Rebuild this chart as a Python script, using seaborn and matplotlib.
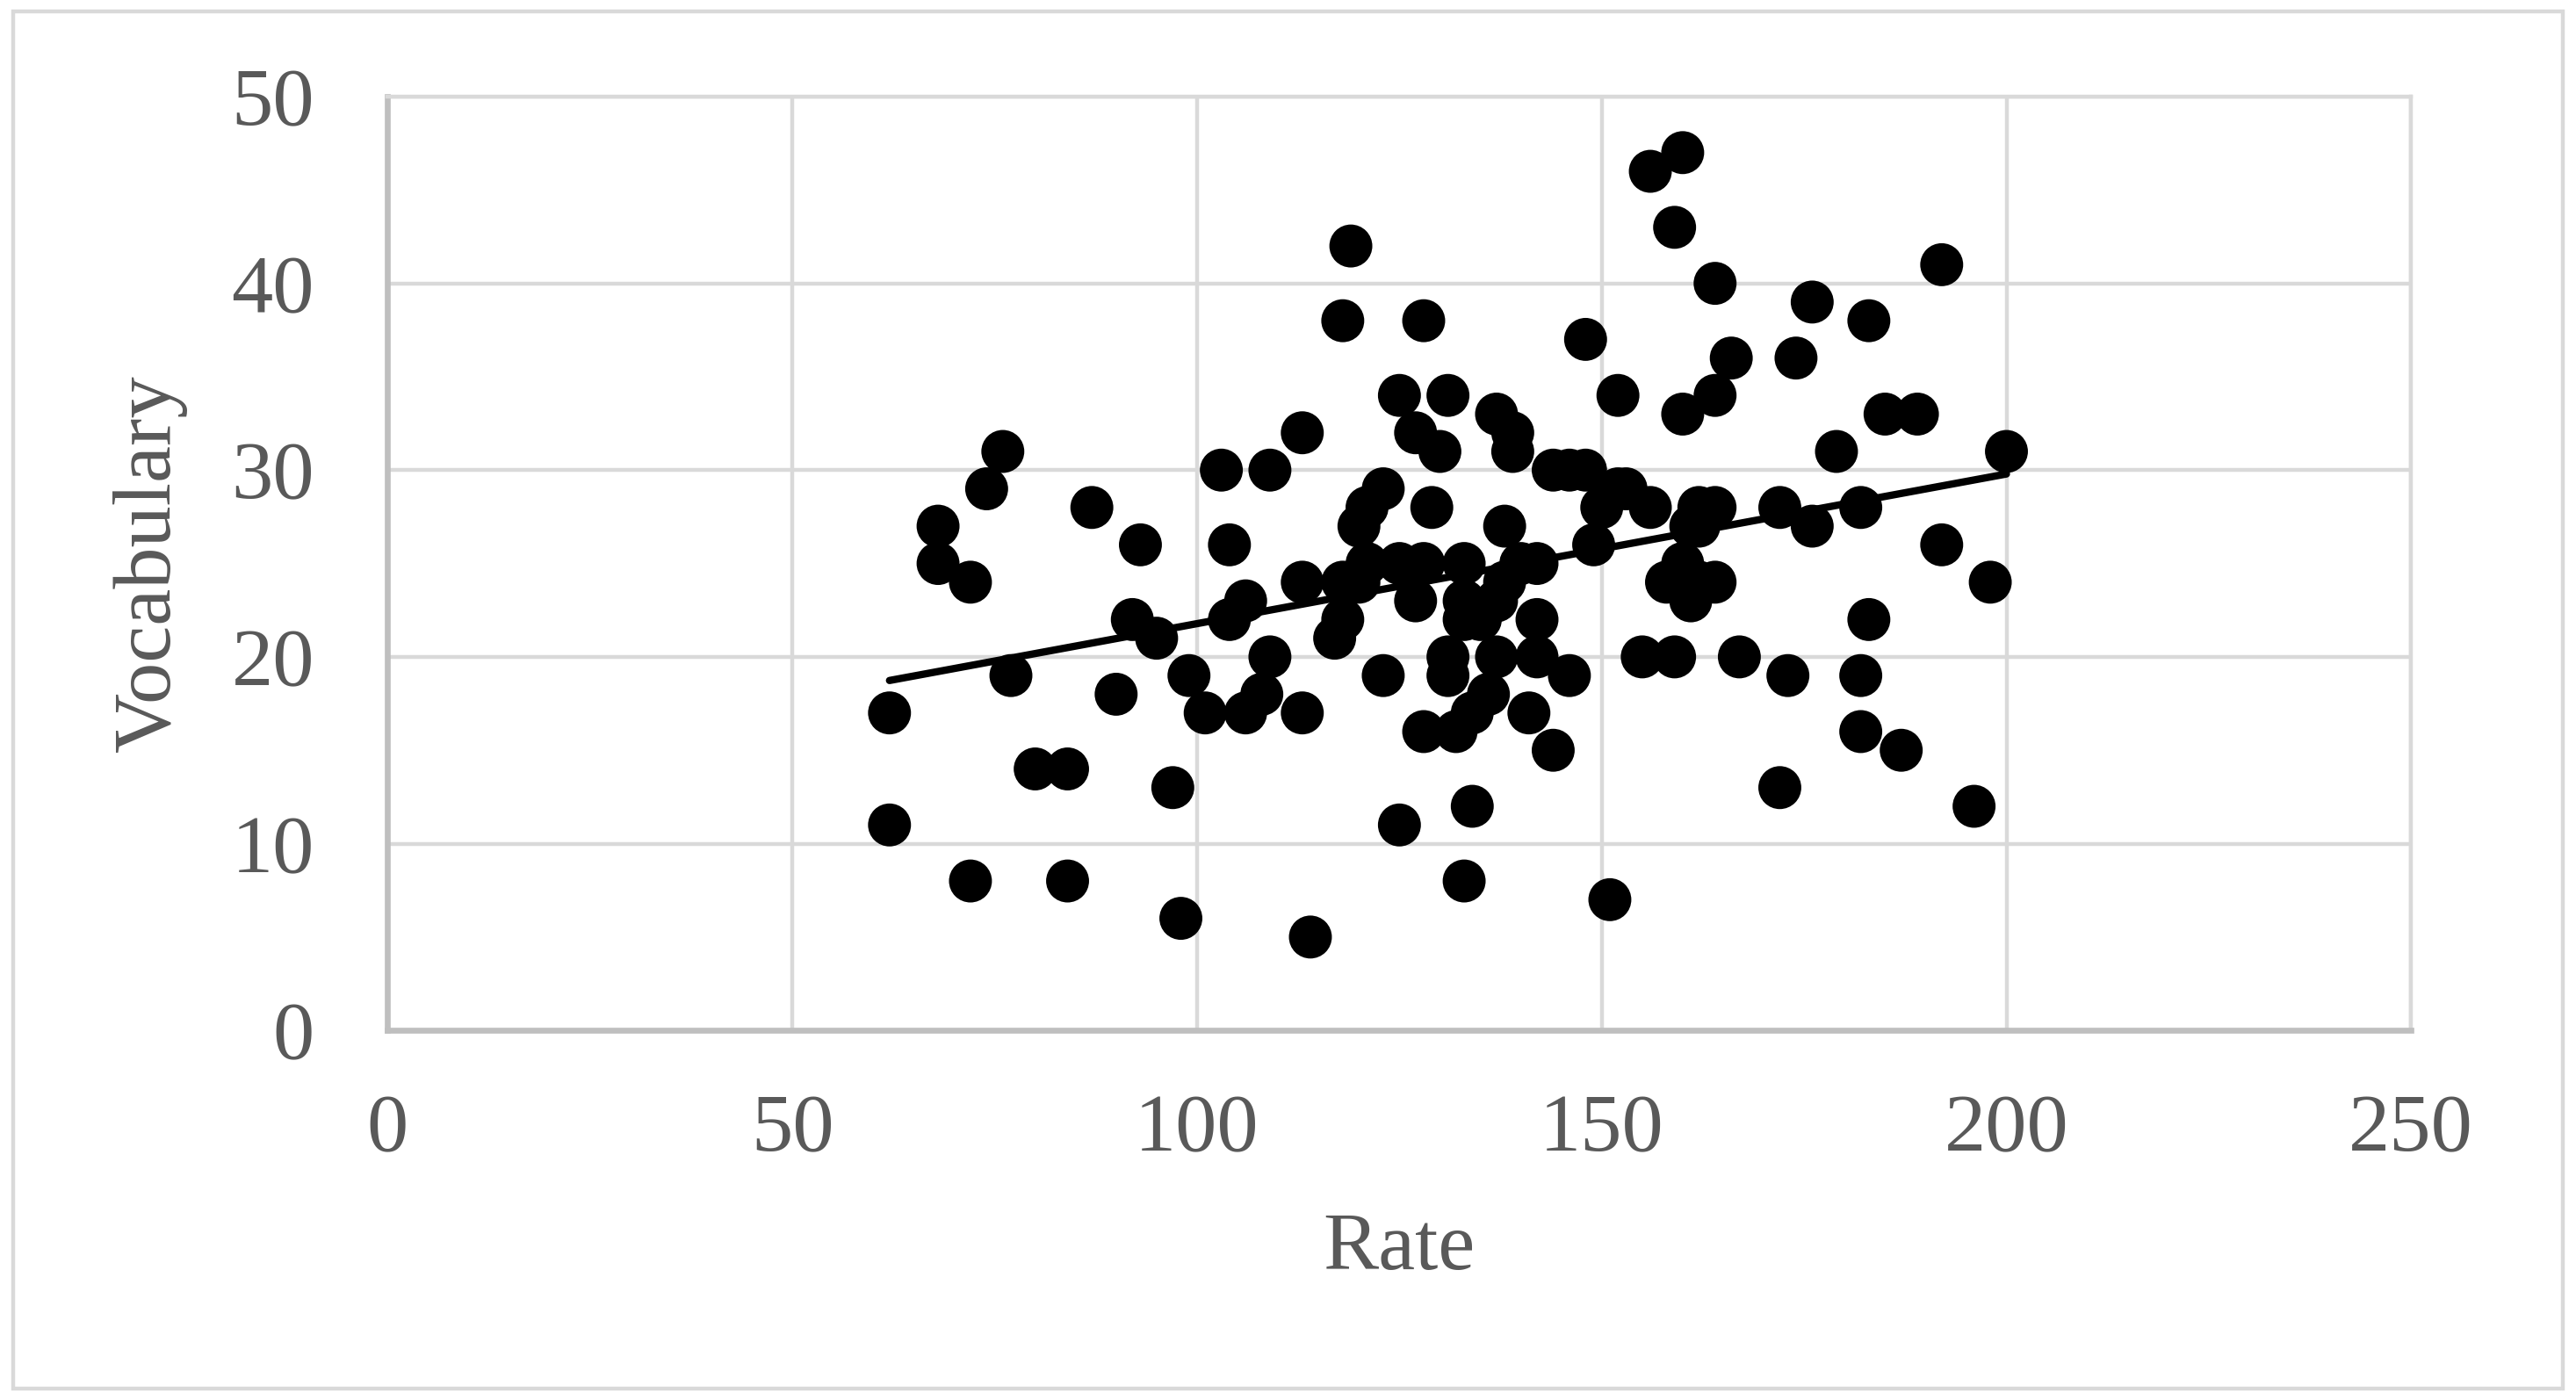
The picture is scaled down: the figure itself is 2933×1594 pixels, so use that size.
#!/usr/bin/env python3
"""Scatter of Rate vs Vocabulary with a linear trendline."""

import matplotlib
matplotlib.use('Agg')
import matplotlib.pyplot as plt
import seaborn as sns
import pandas as pd
from matplotlib.patches import Rectangle

# values
rate = [62, 62, 68, 68, 72, 72, 74, 76, 77, 80, 84, 84, 87, 90, 92, 93, 95, 97,
        98, 99, 101, 103, 104, 104, 106, 106, 108, 109, 109, 113, 113, 113, 114,
        117, 118, 118, 119, 118, 120, 120, 121, 123, 123, 125, 125, 125, 127, 127,
        128, 128, 128, 129, 130, 131, 131, 131, 132, 133, 133, 133, 133, 134, 134,
        135, 136, 137, 137, 137, 138, 138, 139, 139, 140, 141, 142, 142, 142, 144,
        144, 146, 146, 148, 148, 149, 150, 151, 152, 152, 153, 155, 156, 156, 158,
        159, 159, 160, 160, 160, 161, 161, 162, 164, 164, 164, 164, 166, 167, 172,
        172, 173, 174, 176, 176, 179, 182, 182, 182, 183, 183, 185, 187, 189, 192,
        192, 196, 198, 200, 160, 162, 162, 121]
vocabulary = [17, 11, 27, 25, 24, 8, 29, 31, 19, 14, 14, 8, 28, 18, 22, 26, 21, 13,
              6, 19, 17, 30, 26, 22, 23, 17, 18, 20, 30, 32, 24, 17, 5,
              21, 22, 38, 42, 24, 27, 24, 28, 29, 19, 34, 25, 11, 32, 23,
              38, 25, 16, 28, 31, 34, 20, 19, 16, 25, 23, 22, 8, 17, 12,
              22, 18, 33, 20, 23, 27, 24, 32, 31, 25, 17, 20, 22, 25, 15,
              30, 30, 19, 37, 30, 26, 28, 7, 34, 29, 29, 20, 46, 28, 24,
              43, 20, 47, 33, 25, 27, 23, 28, 40, 34, 28, 24, 36, 20, 28,
              13, 19, 36, 39, 27, 31, 19, 16, 28, 38, 22, 33, 15, 33, 41,
              26, 12, 24, 31, 24, 24, 27, 25]

x_ticks = [0, 50, 100, 150, 200, 250]
y_ticks = [0, 10, 20, 30, 40, 50]

df = pd.DataFrame({'Rate': rate, 'Vocabulary': vocabulary})

sns.set_style('white')
plt.rcParams['font.family'] = ['Liberation Serif', 'DejaVu Serif']

fig = plt.figure(figsize=(14.665, 7.97), dpi=200)
ax = fig.add_axes([0.1505, 0.264, 0.7855, 0.667])

sns.regplot(data=df, x='Rate', y='Vocabulary', ax=ax, ci=None,
            scatter_kws={'s': 310, 'color': 'black', 'edgecolors': 'none', 'alpha': 1},
            line_kws={'color': 'black', 'linewidth': 3.0})

ax.set_xlim(0, 250)
ax.set_ylim(0, 50)
ax.set_xticks(x_ticks)
ax.set_yticks(y_ticks)
ax.grid(True, color='#d9d9d9', linewidth=1.6)
ax.set_axisbelow(True)

for side in ['top', 'right']:
    ax.spines[side].set_color('#d9d9d9')
    ax.spines[side].set_linewidth(1.6)
for side in ['left', 'bottom']:
    ax.spines[side].set_color('#bfbfbf')
    ax.spines[side].set_linewidth(2.4)

ax.tick_params(axis='both', length=0, labelsize=34, labelcolor='#595959')
ax.tick_params(axis='x', pad=26)
ax.tick_params(axis='y', pad=30)
ax.set_xlabel('Rate', fontsize=34, color='#595959', labelpad=18)
ax.set_ylabel('Vocabulary', fontsize=34, color='#595959', labelpad=18)

# light frame around the whole chart
fig.patches.append(Rectangle((0.005, 0.008), 0.99, 0.984, transform=fig.transFigure,
                             fill=False, edgecolor='#d9d9d9', linewidth=1.6))

fig.savefig('out.png', dpi=200, facecolor='white')
